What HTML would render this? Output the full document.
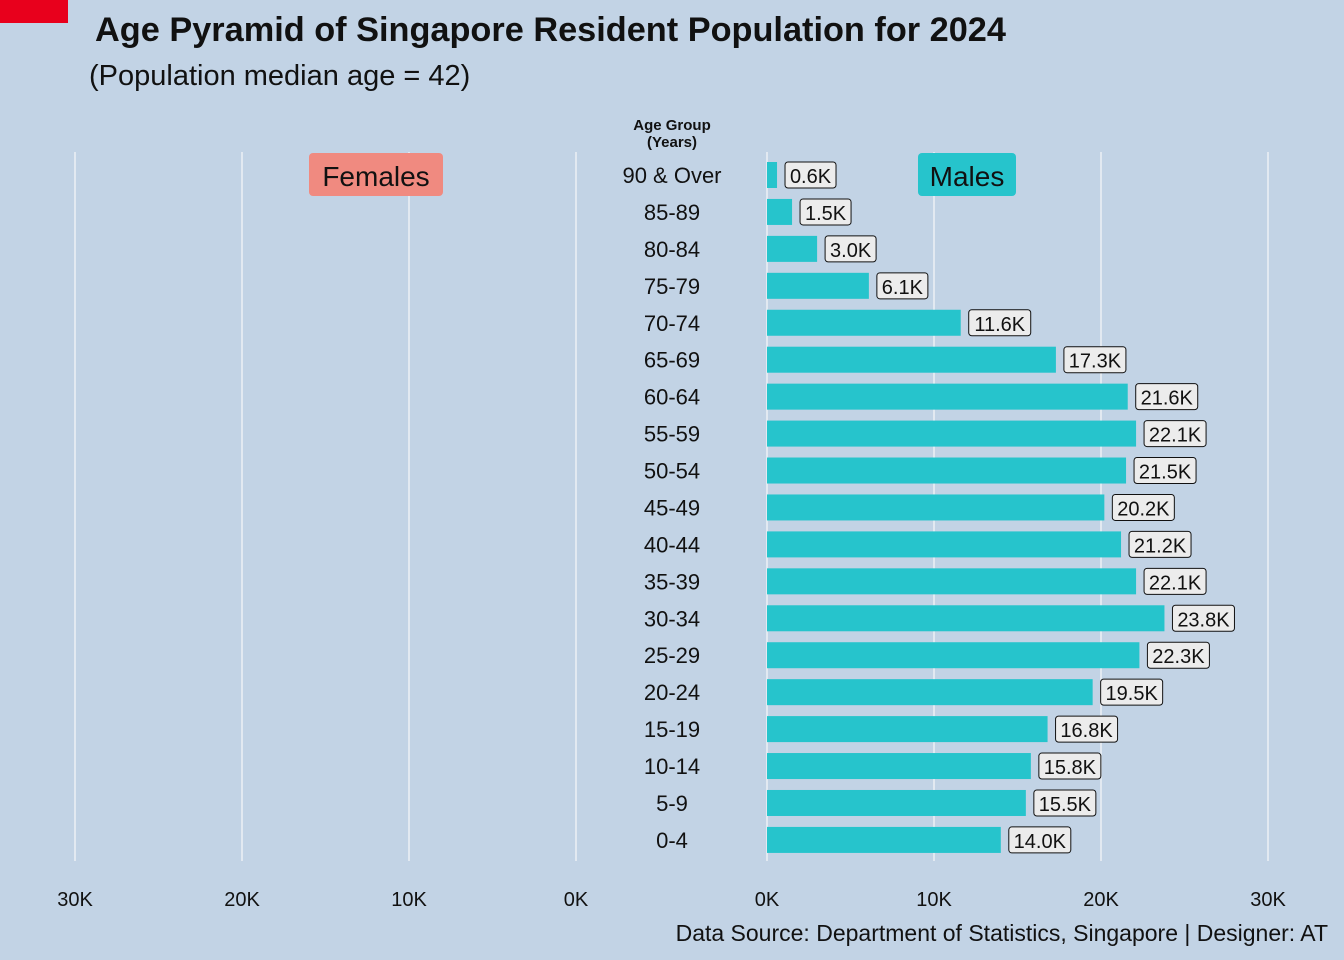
<!DOCTYPE html>
<html><head><meta charset="utf-8"><style>
html,body{margin:0;padding:0;background:#c2d3e5;}
svg{display:block;font-family:"Liberation Sans",Arial,sans-serif;}
</style></head><body>
<svg id="chart" width="1344" height="960" viewBox="0 0 1344 960">
<rect x="0" y="0" width="1344" height="960" fill="#c2d3e5"/>
<rect x="0" y="0" width="68" height="23" fill="#e8001c"/>
<text x="95" y="41" font-size="34.3" font-weight="bold" fill="#111">Age Pyramid of Singapore Resident Population for 2024</text>
<text x="89" y="85" font-size="29" fill="#111">(Population median age = 42)</text>
<text x="672" y="130" font-size="15" font-weight="bold" text-anchor="middle" fill="#111">Age Group</text>
<text x="672" y="147" font-size="15" font-weight="bold" text-anchor="middle" fill="#111">(Years)</text>
<g id="grid"></g>
<g id="bars"></g>
<rect x="309" y="153" width="134" height="43" rx="4" fill="#f08a80"/>
<text x="376" y="186" font-size="28" text-anchor="middle" fill="#111">Females</text>
<rect x="918" y="153" width="98" height="43" rx="4" fill="#26c4cc"/>
<text x="967" y="186" font-size="28" text-anchor="middle" fill="#111">Males</text>
<text x="1328" y="941" font-size="23" text-anchor="end" fill="#111">Data Source: Department of Statistics, Singapore | Designer: AT</text>
</svg>
<script>
const ageGroups = ["90 & Over","85-89","80-84","75-79","70-74","65-69","60-64","55-59","50-54","45-49","40-44","35-39","30-34","25-29","20-24","15-19","10-14","5-9","0-4"];
const males = [0.6,1.5,3.0,6.1,11.6,17.3,21.6,22.1,21.5,20.2,21.2,22.1,23.8,22.3,19.5,16.8,15.8,15.5,14.0];
const females = [];
const tickValues = [0,10,20,30];
const tickLabels = ["0K","10K","20K","30K"];
const NS="http://www.w3.org/2000/svg";
const pxPerK = 16.7;
const xMale = v => 767 + v*pxPerK;
const xFemale = v => 576 - v*pxPerK;
const yRow = i => 175 + i*36.94;
function mk(tag, attrs, parent){const e=document.createElementNS(NS,tag);for(const k in attrs)e.setAttribute(k,attrs[k]);parent.appendChild(e);return e;}
const grid=document.getElementById('grid'), bars=document.getElementById('bars'), svg=document.getElementById('chart');
tickValues.forEach((t,i)=>{
  [xMale(t),xFemale(t)].forEach((x,j)=>{
    const l=mk('line',{x1:x,x2:x,y1:152,y2:861,stroke:'#e2e9f1','stroke-width':2},grid);
    
    
    const tx=mk('text',{x:x,y:906,'font-size':20,'text-anchor':'middle',fill:'#111'},svg);
    tx.textContent=tickLabels[i];
    
    
  });
});
ageGroups.forEach((g,i)=>{
  const y=yRow(i);
  const t=mk('text',{x:672,y:y+8,'font-size':22,'text-anchor':'middle',fill:'#111'},svg);
  t.textContent=g;
  
  
  const v=males[i];
  const b=mk('rect',{x:xMale(0),y:y-13,width:xMale(v)-xMale(0),height:26,fill:'#26c4cc'},bars);
  
  
  const lbl=v.toFixed(1)+'K';
  const w=lbl.length*11+7;
  const bx=xMale(v)+8;
  const r=mk('rect',{x:bx,y:y-13,width:w,height:26,rx:3,fill:'#ececec',stroke:'#111','stroke-width':1},bars);
  
  
  const lt=mk('text',{x:bx+w/2,y:y+8,'font-size':20,'text-anchor':'middle',fill:'#111'},bars);
  lt.textContent=lbl;
  
  
  if(females[i]!==undefined){
    const fb=mk('rect',{x:xFemale(females[i]),y:y-13,width:xFemale(0)-xFemale(females[i]),height:26,fill:'#f08a80'},bars);
    
    
  }
});
</script>
</body></html>
